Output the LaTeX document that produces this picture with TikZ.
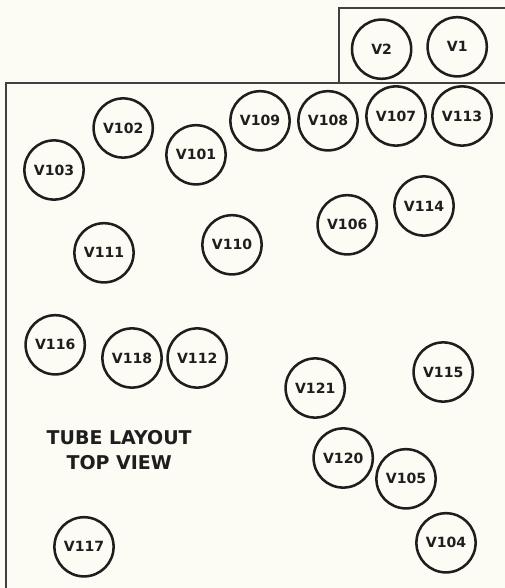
\documentclass[tikz,border=0pt]{standalone}
\usepackage{fontspec}
\setmainfont{DejaVu Sans}
\usepackage{xcolor}
\usepackage{tikz}
\definecolor{TLPaper}{HTML}{FCFCF4}
\definecolor{TLInk}{HTML}{1E1E1E}
\tikzset{
  tube/.style={circle,draw=TLInk,line width=1.8pt,minimum size=1.48cm,inner sep=0pt,
    text=TLInk,font=\fontsize{10}{11}\selectfont\bfseries},
  chassis/.style={draw=TLInk!85,line width=1.1pt}
}

\begin{document}
\begin{tikzpicture}[x=1cm,y=1cm]
\path[use as bounding box,fill=TLPaper] (0,0) rectangle (12.625,14.70);
% chassis outline
\draw[chassis] (0.15,0) -- (0.15,12.63) -- (12.625,12.63);
\draw[chassis] (8.48,12.63) -- (8.48,14.50) -- (12.625,14.50);
% tubes on the upper deck
\node[tube] (v2) at (9.54,13.47) {V2};
\node[tube] (v1) at (11.43,13.53) {V1};
% tubes on the main chassis
\node[tube] (v102) at (3.08,11.50) {V102};
\node[tube] (v101) at (4.90,10.83) {V101};
\node[tube] (v103) at (1.35,10.45) {V103};
\node[tube] (v109) at (6.50,11.68) {V109};
\node[tube] (v108) at (8.20,11.68) {V108};
\node[tube] (v107) at (9.90,11.80) {V107};
\node[tube] (v113) at (11.55,11.80) {V113};
\node[tube] (v106) at (8.68,9.08) {V106};
\node[tube] (v114) at (10.60,9.55) {V114};
\node[tube] (v110) at (5.80,8.58) {V110};
\node[tube] (v111) at (2.60,8.38) {V111};
\node[tube] (v116) at (1.38,6.08) {V116};
\node[tube] (v118) at (3.30,5.75) {V118};
\node[tube] (v112) at (4.93,5.75) {V112};
\node[tube] (v121) at (7.88,5.00) {V121};
\node[tube] (v115) at (11.08,5.40) {V115};
\node[tube] (v120) at (8.58,3.25) {V120};
\node[tube] (v105) at (10.15,2.73) {V105};
\node[tube] (v104) at (11.15,1.13) {V104};
\node[tube] (v117) at (2.10,1.03) {V117};
% caption
\node[text=TLInk,font=\fontsize{13.5}{17.7}\selectfont\bfseries,align=center] (title) at (2.98,3.44) {TUBE LAYOUT\\TOP VIEW};
\end{tikzpicture}
\end{document}
